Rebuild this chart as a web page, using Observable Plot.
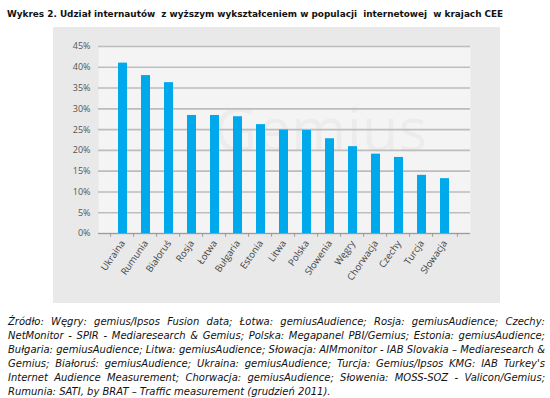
<!DOCTYPE html>
<html>
<head>
<meta charset="utf-8">
<script src="https://cdn.jsdelivr.net/npm/d3@7"></script>
<script src="https://cdn.jsdelivr.net/npm/@observablehq/plot@0.6"></script>
<style>
  html, body { margin: 0; padding: 0; background: #fff; }
  body { width: 550px; height: 398px; position: relative; overflow: hidden; }
  #title { position: absolute; left: 7px; top: 8px; font-family: "DejaVu Sans", Verdana, sans-serif; font-weight: bold; font-size: 10px; line-height: 12px; color: #111; white-space: nowrap; }
  #chart { position: absolute; left: 53px; top: 27px; }
  #caption { position: absolute; left: 8px; top: 315px; width: 537px; font-family: "DejaVu Sans", Verdana, sans-serif; font-style: italic; font-size: 10px; line-height: 14.1px; color: #111; }
  #caption div { text-align: justify; text-align-last: justify; white-space: nowrap; }
  #caption div.last { text-align-last: left; }
</style>
</head>
<body>
<div id="title">Wykres 2. Udział internautów&nbsp; z wyższym wykształceniem w populacji&nbsp; internetowej&nbsp; w krajach CEE</div>
<div id="chart"></div>
<div id="caption"></div>
<script>
const countries = ["Ukraina","Rumunia","Białoruś","Rosja","Łotwa","Bułgaria","Estonia","Litwa","Polska","Słowenia","Węgry","Chorwacja","Czechy","Turcja","Słowacja"];
const shares = [41.0, 38.0, 36.3, 28.4, 28.4, 28.1, 26.2, 24.9, 24.8, 22.8, 20.9, 19.1, 18.3, 14.0, 13.2];
const yTicks = [0, 5, 10, 15, 20, 25, 30, 35, 40, 45];
const captionLines = [
  "Źródło: Węgry: gemius/Ipsos Fusion data;  Łotwa: gemiusAudience; Rosja: gemiusAudience; Czechy:",
  "NetMonitor - SPIR - Mediaresearch & Gemius; Polska: Megapanel PBI/Gemius; Estonia: gemiusAudience;",
  "Bułgaria: gemiusAudience; Litwa: gemiusAudience;  Słowacja: AIMmonitor -  IAB Slovakia – Mediaresearch &",
  "Gemius; Białoruś: gemiusAudience; Ukraina: gemiusAudience; Turcja: Gemius/Ipsos KMG: IAB Turkey's",
  "Internet Audience Measurement; Chorwacja: gemiusAudience; Słowenia: MOSS-SOZ - Valicon/Gemius;",
  "Rumunia: SATI, by BRAT – Traffic measurement (grudzień 2011)."
];

const data = countries.map((c, i) => ({country: c, value: shares[i]}));

const W = 447, H = 276;
const mL = 45, mR = 30, mT = 19, mB = 70;
const step = (W - mL - mR) / countries.length;

const chart = Plot.plot({
  width: W,
  height: H,
  marginLeft: mL,
  marginRight: mR,
  marginTop: mT,
  marginBottom: mB,
  style: {background: "#e9e9e9", fontFamily: "'Open Sans', sans-serif", fontSize: "9px", color: "#555"},
  x: {domain: countries, padding: 0.6, label: null},
  y: {domain: [0, 45], label: null},
  marks: [
    Plot.frame({fill: "#f4f4f4", stroke: null}),
    Plot.text(["Gemius"], {frameAnchor: "middle", dx: 36, dy: -8, fontSize: 60, fill: "#000", fillOpacity: 0.03, fontFamily: "'Open Sans', sans-serif"}),
    Plot.gridY(yTicks, {stroke: "#bdbdbd", strokeWidth: 1.6, strokeOpacity: 1}),
    Plot.axisY(yTicks, {tickSize: 0, tickPadding: 8, tickFormat: d => d + "%", fill: "#555"}),
    Plot.barY(data, {x: "country", y: "value", fill: "#00a9ec"}),
    Plot.ruleY([0], {stroke: "#9a9a9a", strokeWidth: 1}),
    Plot.ruleX(countries, {x: d => d, dx: -step / 2, y1: 0, y2: -0.9, stroke: "#9a9a9a"}),
    Plot.ruleX(countries.slice(-1), {x: d => d, dx: step / 2, y1: 0, y2: -0.9, stroke: "#9a9a9a"}),
    Plot.axisX({tickSize: 0, tickRotate: -55, tickPadding: 8, fill: "#444", fontSize: 9.5})
  ]
});
document.getElementById("chart").appendChild(chart);

// fit title to reference width
const title = document.getElementById("title");
let fs = 10.5;
title.style.fontSize = fs + "px";
while (title.scrollWidth > 498 && fs > 6) { fs -= 0.1; title.style.fontSize = fs + "px"; }

const cap = document.getElementById("caption");
const divs = captionLines.map((t, i) => {
  const d = document.createElement("div");
  d.textContent = t;
  if (i === captionLines.length - 1) d.className = "last";
  cap.appendChild(d);
  return d;
});
// shrink caption font until the longest line fits the column
let cfs = 10.5;
const fits = () => divs.every(d => { d.style.display = "inline-block"; const w = d.scrollWidth; d.style.display = "block"; return w <= 537; });
cap.style.fontSize = cfs + "px";
while (!fits() && cfs > 6) { cfs -= 0.1; cap.style.fontSize = cfs + "px"; }
</script>
</body>
</html>
